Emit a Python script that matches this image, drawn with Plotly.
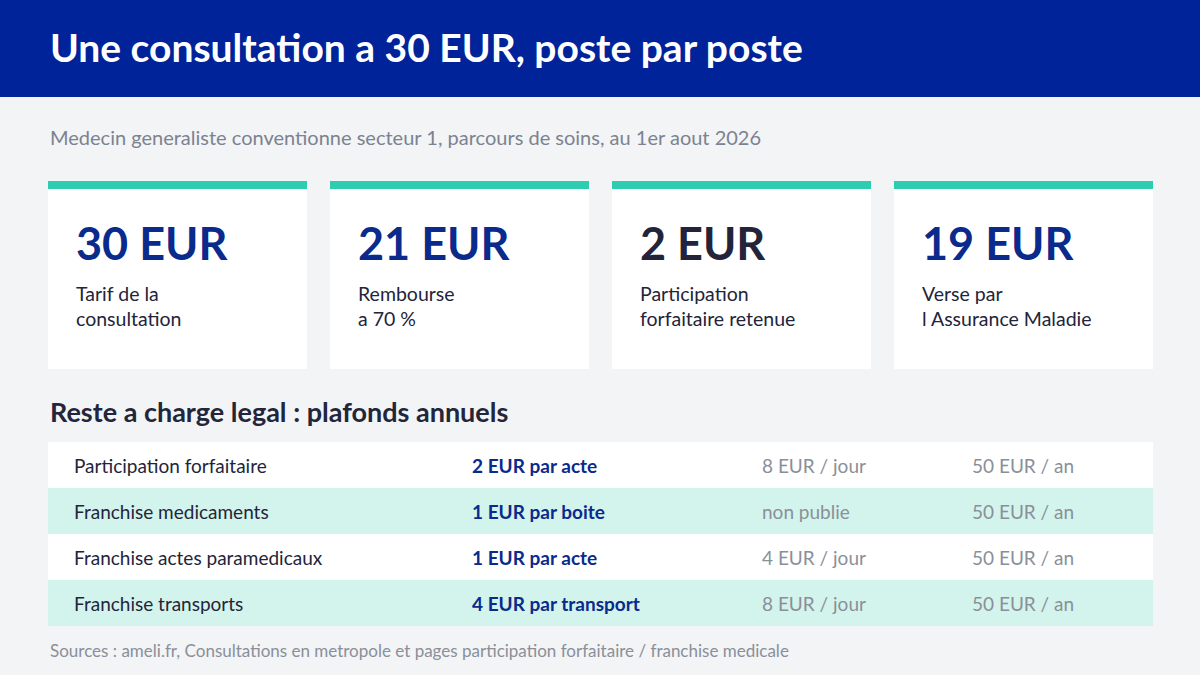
import plotly.graph_objects as go

W, H = 1200, 675

title = "Une consultation a 30 EUR, poste par poste"
subtitle = "Medecin generaliste conventionne secteur 1, parcours de soins, au 1er aout 2026"

card_values = ["30 EUR", "21 EUR", "2 EUR", "19 EUR"]
card_labels = ["Tarif de la<br>consultation", "Rembourse<br>a 70 %",
               "Participation<br>forfaitaire retenue", "Verse par<br>l Assurance Maladie"]
card_colors = ["#0A2A8C", "#0A2A8C", "#23243A", "#0A2A8C"]

table_title = "Reste a charge legal : plafonds annuels"
row_names = ["Participation forfaitaire", "Franchise medicaments",
             "Franchise actes paramedicaux", "Franchise transports"]
row_unit = ["2 EUR par acte", "1 EUR par boite", "1 EUR par acte", "4 EUR par transport"]
row_day = ["8 EUR / jour", "non publie", "4 EUR / jour", "8 EUR / jour"]
row_year = ["50 EUR / an", "50 EUR / an", "50 EUR / an", "50 EUR / an"]

source = "Sources : ameli.fr, Consultations en metropole et pages participation forfaitaire / franchise medicale"

FONT = "Lato"
fig = go.Figure()
shapes, annos = [], []

def txt(x, y, s, size, color, bold=False, anchor="left"):
    annos.append(dict(x=x, y=y, text=f"<b>{s}</b>" if bold else s, showarrow=False,
                      xanchor=anchor, yanchor="middle", xref="x", yref="y",
                      font=dict(family=FONT, size=size, color=color)))

# header
shapes.append(dict(type="rect", x0=0, x1=W, y0=0, y1=97, fillcolor="#00239A", line_width=0, layer="below"))
txt(48, 47, title, 39, "white", bold=True)
txt(48, 137, subtitle, 20, "#7C8290")

# cards
card_w, gap, x_start = 259, 23, 48
for i, (v, lab, c) in enumerate(zip(card_values, card_labels, card_colors)):
    x0 = x_start + i * (card_w + gap)
    shapes.append(dict(type="rect", x0=x0, x1=x0 + card_w, y0=181, y1=369,
                       fillcolor="white", line_width=0, layer="below"))
    shapes.append(dict(type="rect", x0=x0, x1=x0 + card_w, y0=181, y1=189,
                       fillcolor="#2ECDB2", line_width=0, layer="below"))
    txt(x0 + 26, 243, v, 45, c, bold=True)
    annos.append(dict(x=x0 + 26, y=306, text=lab, showarrow=False, xanchor="left",
                      yanchor="middle", align="left", xref="x", yref="y",
                      font=dict(family=FONT, size=19.5, color="#23243A")))

# table
txt(48, 411, table_title, 27, "#23263A", bold=True)
row_h, y_top = 46, 442
for i in range(len(row_names)):
    y0 = y_top + i * row_h
    shapes.append(dict(type="rect", x0=48, x1=1153, y0=y0, y1=y0 + row_h,
                       fillcolor="white" if i % 2 == 0 else "#D3F4EC", line_width=0, layer="below"))
    yc = y0 + row_h / 2
    txt(72, yc, row_names[i], 19, "#23243A")
    txt(470, yc, row_unit[i], 19, "#0A2A8C", bold=True)
    txt(760, yc, row_day[i], 19, "#8A8F99")
    txt(970, yc, row_year[i], 19, "#8A8F99")

txt(48, 650, source, 17, "#8A8F99")

fig.update_layout(
    width=W, height=H, margin=dict(l=0, r=0, t=0, b=0),
    paper_bgcolor="#F2F4F6", plot_bgcolor="#F2F4F6",
    xaxis=dict(range=[0, W], visible=False, fixedrange=True),
    yaxis=dict(range=[H, 0], visible=False, fixedrange=True),
    shapes=shapes, annotations=annos, showlegend=False,
)
fig.write_html("out.html", config={"displayModeBar": False},
               post_script="document.body.style.margin='0';")
